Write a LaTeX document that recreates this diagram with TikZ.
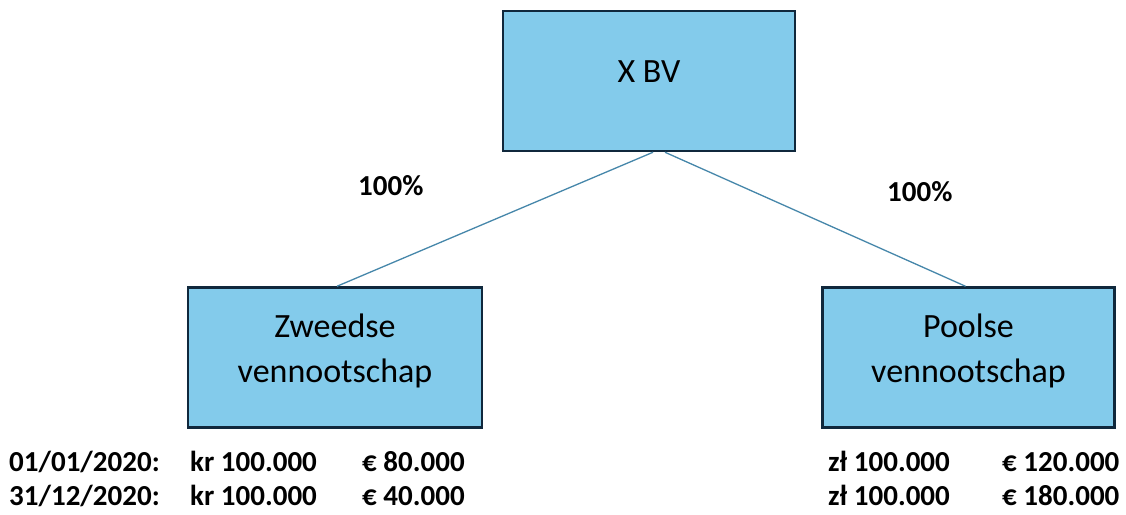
\documentclass[tikz,border=0pt]{standalone}
\usepackage{fontspec}
\setmainfont{Carlito}
\definecolor{boxfill}{RGB}{131,203,235}
\definecolor{boxedge}{RGB}{16,40,60}
\definecolor{linkcol}{RGB}{70,135,170}
\begin{document}
\begin{tikzpicture}[x=1pt,y=-1pt,
  company/.style={draw=boxedge, fill=boxfill, line width=2.5pt, inner sep=0pt},
  boxtext/.style={font=\fontsize{34}{40}\selectfont, anchor=base, inner sep=0pt},
  bold/.style={font=\bfseries\fontsize{29}{34}\selectfont, anchor=base west, inner sep=0pt},
  link/.style={draw=linkcol, line width=1.3pt}]
\useasboundingbox (0,0) rectangle (1126,514);
\fill[white] (0,0) rectangle (1126,514);
% boxes
\node[company, minimum width=292pt, minimum height=140pt] (xbv) at (649,81) {};
\node[company, minimum width=294pt, minimum height=140pt] (zw) at (335,357.5) {};
\node[company, minimum width=292pt, minimum height=140pt] (pl) at (968.5,357.5) {};
% box texts
\node[boxtext] (xbvt) at (649,82) {X BV};
\node[boxtext] (zwt1) at (335,337) {Zweedse};
\node[boxtext] (zwt2) at (335,382) {vennootschap};
\node[boxtext] (plt1) at (968.5,337) {Poolse};
\node[boxtext] (plt2) at (968.5,382) {vennootschap};
% connectors
\draw[link] ([xshift=4pt]xbv.south) -- ([xshift=2pt]zw.north);
\draw[link] ([xshift=16pt]xbv.south) -- ([xshift=-3pt]pl.north);
% percentages
\node[bold] (p1) at (358,195) {100\%};
\node[bold] (p2) at (887,201) {100\%};
% values
\node[bold] (d1) at (9,471) {01/01/2020:};
\node[bold] (d2) at (9,505) {31/12/2020:};
\node[bold] (k1) at (190,471) {kr 100.000};
\node[bold] (k2) at (190,505) {kr 100.000};
\node[bold] (e1) at (362,471) {€ 80.000};
\node[bold] (e2) at (362,505) {€ 40.000};
\node[bold] (z1) at (828,471) {zł 100.000};
\node[bold] (z2) at (828,505) {zł 100.000};
\node[bold] (e3) at (1002,471) {€ 120.000};
\node[bold] (e4) at (1002,505) {€ 180.000};
\end{tikzpicture}
\end{document}
